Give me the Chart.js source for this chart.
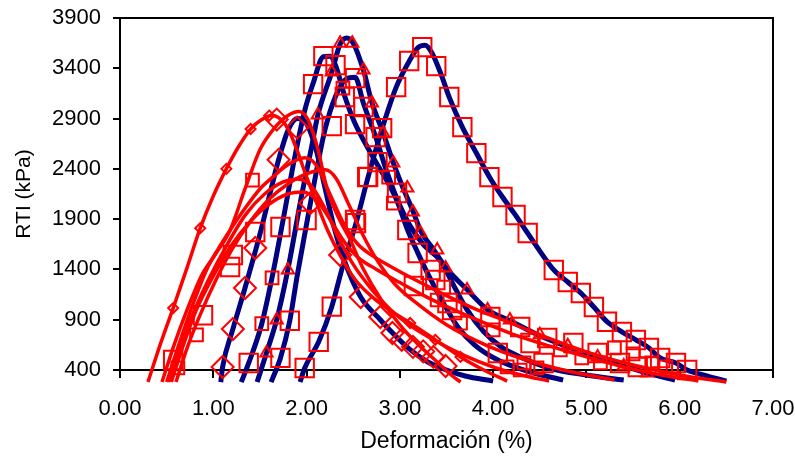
<!DOCTYPE html>
<html>
<head>
<meta charset="utf-8">
<script src="https://cdn.jsdelivr.net/npm/chart.js@4.4.1/dist/chart.umd.min.js"></script>
<style>
  html, body { margin: 0; padding: 0; background: #fff; }
  canvas { display: block; }
</style>
</head>
<body>
<canvas id="rtiChart" width="795" height="457"></canvas>
<script>
// fitted curves (navy), [deformation %, RTI kPa]
const navy1 = [[1.08,280],[1.10,430],[1.21,807],[1.34,1215],[1.5,1750],[1.62,2200],[1.70,2490],[1.8,2780],[1.9,2900],[2.0,2850],[2.1,2600],[2.2,2200],[2.3,1800],[2.4,1500],[2.58,1125],[2.79,900],[2.92,770],[3.1,610],[3.3,480],[3.5,400],[3.7,340],[4.0,290]];
const navy2 = [[1.30,280],[1.38,470],[1.52,860],[1.63,1320],[1.75,1900],[1.87,2500],[1.98,2980],[2.07,3250],[2.18,3515],[2.25,3520],[2.31,3430],[2.41,3120],[2.52,2850],[2.65,2620],[2.76,2440],[2.88,2250],[2.97,2080],[3.08,1800],[3.19,1570],[3.33,1300],[3.47,1060],[3.62,830],[3.8,650],[4.05,500],[4.4,380],[4.75,300]];
const navy3 = [[1.47,280],[1.57,570],[1.68,900],[1.80,1400],[1.95,2150],[2.05,2600],[2.12,2930],[2.27,3360],[2.36,3640],[2.43,3700],[2.5,3650],[2.61,3380],[2.70,3060],[2.82,2760],[2.93,2460],[3.03,2220],[3.14,1980],[3.23,1770],[3.36,1600],[3.49,1420],[3.72,1200],[3.94,1000],[4.18,890],[4.5,740],[4.8,630],[5.12,530],[5.4,440],[5.65,370],[5.95,300]];
const navy4 = [[1.62,280],[1.72,520],[1.82,890],[1.90,1340],[2.0,1850],[2.1,2350],[2.2,2800],[2.31,3120],[2.42,3290],[2.52,3310],[2.61,3050],[2.74,2720],[2.85,2400],[2.97,2100],[3.1,1850],[3.25,1650],[3.43,1490],[3.6,1200],[3.72,1000],[3.9,780],[4.1,620],[4.29,530],[4.6,420],[5.0,350],[5.4,300]];
const navy5 = [[1.93,280],[1.98,420],[2.13,680],[2.27,1030],[2.39,1440],[2.53,1860],[2.66,2320],[2.81,2800],[2.96,3210],[3.10,3470],[3.2,3610],[3.27,3630],[3.34,3560],[3.45,3320],[3.53,3110],[3.67,2815],[3.82,2557],[3.96,2320],[4.10,2120],[4.24,1940],[4.37,1760],[4.51,1570],[4.65,1395],[4.80,1275],[4.94,1165],[5.08,1026],[5.22,880],[5.38,780],[5.53,700],[5.67,620],[5.79,520],[5.96,470],[6.08,400],[6.3,340],[6.5,290]];

// measured curves (red)
const red1 = [[0.30,280],[0.43,650],[0.57,1016],[0.72,1420],[0.86,1810],[1.0,2130],[1.14,2400],[1.27,2620],[1.40,2796],[1.52,2890],[1.62,2930],[1.70,2910],[1.80,2800],[1.90,2580],[2.0,2320],[2.1,2080],[2.22,1800],[2.36,1540],[2.52,1300],[2.7,1130],[2.9,990],[3.11,867],[3.38,700],[3.65,530],[3.9,400],[4.15,290]];
const red2 = [[0.45,280],[0.58,650],[0.72,1000],[0.88,1350],[1.03,1560],[1.18,1790],[1.34,2200],[1.5,2590],[1.65,2800],[1.8,2930],[1.92,2970],[2.02,2880],[2.12,2600],[2.22,2200],[2.35,1900],[2.47,1690],[2.6,1420],[2.8,1100],[3.0,850],[3.2,650],[3.4,480],[3.55,350],[3.65,280]];
const red3 = [[0.5,280],[0.63,650],[0.78,1050],[0.93,1400],[1.05,1600],[1.18,1790],[1.35,2020],[1.5,2200],[1.64,2320],[1.8,2440],[1.98,2510],[2.1,2440],[2.25,2150],[2.4,1850],[2.55,1650],[2.7,1540],[2.9,1430],[3.2,1280],[3.5,1140],[3.8,1010],[4.1,900],[4.5,750],[5.0,580],[5.5,450],[6.0,350],[6.5,280]];
const red4 = [[0.55,280],[0.68,650],[0.82,1000],[0.98,1300],[1.18,1620],[1.4,1880],[1.6,2050],[1.8,2150],[1.96,2170],[2.1,2100],[2.25,1900],[2.4,1680],[2.55,1520],[2.75,1400],[3.0,1270],[3.3,1120],[3.6,990],[3.9,870],[4.2,760],[4.6,640],[5.0,530],[5.4,430],[5.8,350],[6.2,290]];
const red5 = [[0.6,280],[0.72,620],[0.86,950],[1.02,1280],[1.2,1600],[1.4,1880],[1.6,2100],[1.8,2250],[2.0,2350],[2.2,2390],[2.32,2300],[2.45,2050],[2.6,1750],[2.75,1500],[2.95,1250],[3.2,1050],[3.5,850],[3.8,700],[4.1,580],[4.5,460],[4.9,370],[5.3,300]];
const red6 = [[0.52,280],[0.65,650],[0.8,1000],[0.95,1300],[1.15,1650],[1.35,1950],[1.55,2150],[1.75,2270],[1.9,2300],[2.05,2230],[2.2,2000],[2.35,1700],[2.5,1450],[2.7,1200],[2.9,1000],[3.1,850],[3.4,680],[3.7,540],[4.0,430],[4.3,350],[4.6,290]];

// data points (red markers)
const diamondsBig = [[1.10,430],[1.21,807],[1.34,1215],[1.45,1613],[1.70,2490],[1.68,2890],[1.90,2810],[2.04,2060],[2.36,1543],[2.58,1126],[2.79,927],[2.92,768],[3.02,700],[3.14,630],[3.25,585],[3.36,530],[3.49,440]];
const diamondsSmall = [[0.57,1016],[0.86,1810],[1.14,2400],[1.40,2796],[1.60,2930],[3.11,867],[3.38,700],[3.65,530]];
const triangles = [[1.57,570],[1.68,897],[1.80,1394],[2.12,2935],[2.27,3362],[2.36,3650],[2.49,3650],[2.61,3382],[2.70,3054],[2.82,2756],[2.93,2457],[3.08,2209],[3.14,1970],[3.22,1762],[3.40,1593],[3.49,1414],[3.72,1195],[3.94,996],[4.18,897],[4.5,750],[4.8,640],[5.12,530],[5.4,440],[5.65,370]];
const squaresBig = [[1.98,420],[2.13,680],[2.27,1030],[2.53,1860],[2.66,2320],[2.81,2805],[2.96,3213],[3.10,3472],[3.24,3610],[3.39,3422],[3.53,3114],[3.67,2815],[3.82,2557],[3.96,2318],[4.10,2120],[4.24,1941],[4.37,1762],[4.65,1394],[4.80,1275],[4.94,1165],[5.08,1026],[5.22,880],[5.38,778],[5.53,698],[5.67,619],[5.79,519],[5.96,470],[6.08,400],
  [1.38,470],[1.72,520],[1.82,890],[2.07,3243],[2.18,3521],[2.31,3432],[2.41,3114],[2.52,3302],[2.27,2825],[2.52,2845],[2.61,3015],[2.74,2716],[2.76,2467],[2.97,2160],[3.08,1792],[3.19,1563],[3.33,1394],[3.51,1066],
  [0.57,500],[0.89,945],[1.18,1424],[1.21,1543],[1.45,1772],[1.72,1822],[2.0,1891],[2.52,1891],[2.65,2318],
  [3.15,1235],[3.38,1295],[3.56,996],[3.97,927],[4.05,569],[4.29,827],[4.40,668],[4.54,470],[4.58,718],[4.86,668],[5.12,569],[5.36,470],[5.55,430]];
const squaresSmall = [[1.52,860],[1.63,1315],[0.62,420],[0.82,750],[1.42,2289],[2.39,3203],[2.88,2318],[2.93,2060],[3.47,1225],[3.40,1096],[3.65,867],[4.0,798],[4.15,430],[4.29,400],[4.33,470],[4.47,420],[4.72,600],[4.95,520],[5.15,470],[5.3,620],[5.5,560],[5.7,470],[5.85,430]];

const NAVY = '#000080';
const RED = '#ff0000';
const pts = arr => arr.map(p => ({ x: p[0], y: p[1] }));

const navyLine = d => ({
  data: pts(d), showLine: true, borderColor: NAVY, borderWidth: 5,
  pointRadius: 0, cubicInterpolationMode: 'monotone', clip: false, order: 3
});
const redLine = d => ({
  data: pts(d), showLine: true, borderColor: RED, borderWidth: 3.5,
  pointRadius: 0, cubicInterpolationMode: 'monotone', clip: false, order: 2
});
const marks = (d, style, r) => ({
  data: pts(d), showLine: false, pointStyle: style, pointRadius: r,
  pointBorderColor: RED, pointBackgroundColor: 'rgba(0,0,0,0)', pointBorderWidth: 2,
  clip: false, order: 1
});

// top and right frame of the plot area
const frame = {
  id: 'frame',
  beforeDatasetsDraw(chart) {
    const { ctx, chartArea: a } = chart;
    ctx.save();
    ctx.strokeStyle = '#000';
    ctx.lineWidth = 2;
    ctx.beginPath();
    ctx.moveTo(a.left, a.top);
    ctx.lineTo(a.right, a.top);
    ctx.lineTo(a.right, a.bottom);
    ctx.stroke();
    ctx.restore();
  }
};

const tickFont = { family: "'Liberation Sans', Arial, sans-serif", size: 22 };
const xTitleFont = { family: "'Liberation Sans', Arial, sans-serif", size: 23 };
const yTitleFont = { family: "'Liberation Sans', Arial, sans-serif", size: 21 };

const config = {
  type: 'scatter',
  data: {
    datasets: [
      navyLine(navy1), navyLine(navy2), navyLine(navy3), navyLine(navy4), navyLine(navy5),
      redLine(red1), redLine(red2), redLine(red3), redLine(red4), redLine(red5), redLine(red6),
      marks(diamondsBig, 'rectRot', 11), marks(diamondsSmall, 'rectRot', 5),
      marks(triangles, 'triangle', 7),
      marks(squaresBig, 'rect', 13), marks(squaresSmall, 'rect', 9)
    ]
  },
  options: {
    responsive: false,
    animation: false,
    devicePixelRatio: 1,
    layout: { autoPadding: false, padding: { top: 18, right: 22, left: 0, bottom: 0 } },
    plugins: { legend: { display: false }, tooltip: { enabled: false } },
    scales: {
      x: {
        min: 0, max: 7,
        afterFit: s => { s.height = 87; s.paddingLeft = 0; s.paddingRight = 0; },
        ticks: { stepSize: 1, color: '#000', font: tickFont, padding: 18, callback: v => v.toFixed(2) },
        grid: { drawOnChartArea: false, drawTicks: true, tickLength: 8, color: '#000', lineWidth: 2 },
        border: { display: true, color: '#000', width: 2 },
        title: { display: true, text: 'Deformación (%)', color: '#000', font: xTitleFont, padding: { top: 3, bottom: 2 } }
      },
      y: {
        min: 400, max: 3900,
        afterFit: s => { s.width = 120; s.paddingTop = 0; s.paddingBottom = 0; },
        ticks: { stepSize: 500, color: '#000', font: tickFont, padding: 12, callback: v => String(v) },
        grid: { drawOnChartArea: false, drawTicks: true, tickLength: 7, color: '#000', lineWidth: 2 },
        border: { display: true, color: '#000', width: 2 },
        title: { display: true, text: 'RTI (kPa)', color: '#000', font: yTitleFont, padding: { top: 12, bottom: 0 } }
      }
    }
  },
  plugins: [frame]
};

var ctx = document.getElementById('rtiChart').getContext('2d');
var rtiChart = new Chart(ctx, config);
</script>
</body>
</html>
